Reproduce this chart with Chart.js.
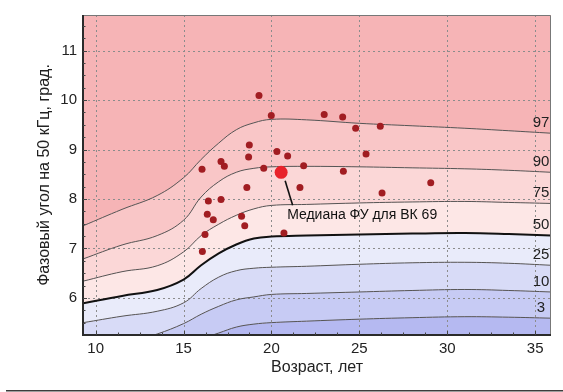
<!DOCTYPE html>
<html>
<head>
<meta charset="utf-8">
<script src="https://cdn.jsdelivr.net/npm/chart.js@4"></script>
<style>
  html, body { margin: 0; padding: 0; background: #fff; }
  canvas { display: block; }
</style>
</head>
<body>
<canvas id="chart" width="563" height="392"></canvas>
<script>
// age grid of the percentile curves, years
const ages = [9.3, 11.5, 13.5, 15, 16, 17, 18, 19, 20, 22, 25, 28, 31, 33.5, 35.9];

// phase angle percentiles at 50 kHz, degrees
const p97 = [7.46, 7.79, 8.07, 8.43, 8.80, 9.13, 9.40, 9.54, 9.61, 9.60, 9.53, 9.48, 9.43, 9.38, 9.33];
const p90 = [6.79, 7.07, 7.26, 7.57, 8.04, 8.35, 8.54, 8.62, 8.65, 8.66, 8.65, 8.63, 8.61, 8.58, 8.54];
const p75 = [6.34, 6.53, 6.65, 6.93, 7.26, 7.49, 7.67, 7.80, 7.87, 7.89, 7.92, 7.94, 7.95, 7.93, 7.91];
const p50 = [5.89, 6.04, 6.16, 6.37, 6.66, 6.90, 7.08, 7.20, 7.24, 7.26, 7.28, 7.30, 7.31, 7.29, 7.26];
const p25 = [5.50, 5.63, 5.73, 5.90, 6.19, 6.42, 6.55, 6.60, 6.62, 6.64, 6.68, 6.71, 6.72, 6.70, 6.66];
const p10 = [4.85, 5.06, 5.27, 5.48, 5.67, 5.83, 5.96, 6.02, 6.07, 6.09, 6.12, 6.15, 6.17, 6.15, 6.12];
const p3  = [4.40, 4.60, 4.85, 5.05, 5.17, 5.29, 5.41, 5.47, 5.50, 5.53, 5.57, 5.60, 5.62, 5.61, 5.59];

const percentileNames = ['97', '90', '75', '50', '25', '10', '3'];
const percentileCurves = [p97, p90, p75, p50, p25, p10, p3];

// band colours: above 97 first, then each band under a curve
const bandColors = ['#f6b4b6', '#f9c6c7', '#fbd7d7', '#fde7e6', '#e9ebfa', '#d8dbf7', '#c7cbf4', '#b5b9f1'];

// individual measurements
const obsAge   = [19.29, 19.99, 23.0, 24.05, 18.74, 18.7, 20.31, 20.92, 17.13, 17.32, 16.05, 19.56, 21.83, 24.09, 18.6,
                  21.62, 16.41, 17.13, 16.35, 16.69, 18.3, 18.48, 16.22, 16.07, 20.71, 24.79, 26.19, 25.38, 29.06, 26.29];
const obsPhase = [10.09, 9.69, 9.71, 9.66, 9.09, 8.85, 8.96, 8.87, 8.76, 8.66, 8.6, 8.62, 8.67, 8.56, 8.23,
                  8.23, 7.96, 7.99, 7.69, 7.58, 7.65, 7.46, 7.28, 6.94, 7.31, 9.43, 9.47, 8.91, 8.33, 8.12];

// group median
const medianAge = [20.55];
const medianPhase = [8.54];
const medianLabel = 'Медиана ФУ для ВК 69';

const FONT = 'Arial, "Liberation Sans", sans-serif';

const toPoints = (xs, ys) => xs.map((x, i) => ({ x: x, y: ys[i] }));

const curveSets = percentileCurves.map((vals, i) => ({
  type: 'line',
  data: toPoints(ages, vals),
  borderColor: percentileNames[i] === '50' ? '#111' : '#555',
  borderWidth: percentileNames[i] === '50' ? 2 : 1,
  pointRadius: 0,
  tension: 0.4,
  backgroundColor: bandColors[i + 1],
  fill: i === percentileCurves.length - 1 ? 'start' : '+1'
}));

const decor = {
  id: 'decor',
  beforeDraw(chart) {
    const { ctx, chartArea: a } = chart;
    ctx.save();
    ctx.fillStyle = '#fff';
    ctx.fillRect(0, 0, chart.width, chart.height);
    ctx.fillStyle = bandColors[0];
    ctx.fillRect(a.left, a.top, a.right - a.left, a.bottom - a.top);
    ctx.restore();
  },
  beforeDatasetsDraw(chart) {
    // dotted grid on top of the bands
    const { ctx, chartArea: a, scales: { x, y } } = chart;
    ctx.save();
    ctx.strokeStyle = '#8c8c8c';
    ctx.lineWidth = 1;
    ctx.setLineDash([2, 3]);
    x.ticks.forEach(t => {
      const px = Math.round(x.getPixelForValue(t.value)) + 0.5;
      ctx.beginPath(); ctx.moveTo(px, a.top); ctx.lineTo(px, a.bottom); ctx.stroke();
    });
    y.ticks.forEach(t => {
      const py = Math.round(y.getPixelForValue(t.value)) + 0.5;
      ctx.beginPath(); ctx.moveTo(a.left, py); ctx.lineTo(a.right, py); ctx.stroke();
    });
    ctx.restore();
  },
  afterDatasetsDraw(chart) {
    const { ctx, chartArea: a, scales: { x, y } } = chart;
    ctx.save();

    // frame
    ctx.strokeStyle = '#777';
    ctx.lineWidth = 1;
    ctx.beginPath();
    ctx.moveTo(a.left, a.top + 0.5); ctx.lineTo(a.right - 0.5, a.top + 0.5); ctx.lineTo(a.right - 0.5, a.bottom);
    ctx.stroke();
    ctx.strokeStyle = '#2b2b2b';
    ctx.lineWidth = 2;
    ctx.beginPath();
    ctx.moveTo(a.left, a.top); ctx.lineTo(a.left, a.bottom); ctx.lineTo(a.right, a.bottom);
    ctx.stroke();

    // inward tick marks
    ctx.lineWidth = 1;
    ctx.strokeStyle = '#444';
    for (let v = 10; v <= x.max; v += 1.25) {
      const px = Math.round(x.getPixelForValue(v)) + 0.5;
      const len = Math.abs(v % 5) < 1e-6 ? 4 : 2.5;
      ctx.beginPath(); ctx.moveTo(px, a.bottom); ctx.lineTo(px, a.bottom - len); ctx.stroke();
    }
    for (let v = 5.5; v <= y.max; v += 0.25) {
      const py = Math.round(y.getPixelForValue(v)) + 0.5;
      const len = Math.abs(v % 1) < 1e-6 ? 4 : 2.5;
      ctx.beginPath(); ctx.moveTo(a.left, py); ctx.lineTo(a.left + len, py); ctx.stroke();
    }

    // percentile names above the right end of each curve
    ctx.fillStyle = '#222';
    ctx.font = '15px ' + FONT;
    ctx.textAlign = 'center';
    ctx.textBaseline = 'alphabetic';
    percentileCurves.forEach((vals, i) => {
      const py = y.getPixelForValue(vals[vals.length - 1]);
      ctx.fillText(percentileNames[i], a.right - 10, py - 6.3);
    });

    // callout for the median point
    const mx = x.getPixelForValue(medianAge[0]);
    const my = y.getPixelForValue(medianPhase[0]);
    ctx.strokeStyle = '#111';
    ctx.lineWidth = 1.6;
    ctx.beginPath(); ctx.moveTo(mx + 4, my + 8.5); ctx.lineTo(mx + 11.5, my + 33); ctx.stroke();
    ctx.fillStyle = '#111';
    ctx.font = '14px ' + FONT;
    ctx.textAlign = 'left';
    ctx.fillText(medianLabel, mx + 6, my + 46.5);
    ctx.restore();
  },
  afterDraw(chart) {
    const { ctx } = chart;
    ctx.save();
    ctx.fillStyle = '#3c3c3c';
    ctx.fillRect(6, 390, chart.width - 6, 1.5);
    ctx.restore();
  }
};

new Chart(document.getElementById('chart'), {
  type: 'line',
  data: {
    datasets: [
      {
        type: 'scatter',
        data: toPoints(medianAge, medianPhase),
        backgroundColor: '#e8232b',
        borderWidth: 0,
        pointRadius: 6.5
      },
      {
        type: 'scatter',
        data: toPoints(obsAge, obsPhase),
        backgroundColor: '#a11d22',
        borderWidth: 0,
        pointRadius: 3.5
      },
      ...curveSets
    ]
  },
  options: {
    responsive: false,
    animation: false,
    events: [],
    layout: { padding: { top: 13, right: 12, bottom: 0, left: 0 } },
    plugins: {
      legend: { display: false },
      tooltip: { enabled: false },
      filler: { drawTime: 'beforeDatasetsDraw' }
    },
    scales: {
      x: {
        type: 'linear',
        min: 9.28,
        max: 35.9,
        grid: { display: false, drawTicks: false },
        border: { display: false },
        ticks: { stepSize: 5, includeBounds: false, padding: 5, color: '#222', font: { family: FONT, size: 15 } },
        title: { display: true, text: 'Возраст, лет', color: '#222', font: { family: FONT, size: 16 }, padding: { top: 0, bottom: 15 } },
        afterFit(scale) { scale.height = 57; }
      },
      y: {
        type: 'linear',
        min: 5.25,
        max: 11.72,
        grid: { display: false, drawTicks: false },
        border: { display: false },
        ticks: { stepSize: 1, includeBounds: false, padding: 6, color: '#222', font: { family: FONT, size: 15 } },
        title: { display: true, text: 'Фазовый угол на 50 кГц, град.', color: '#222', font: { family: FONT, size: 16 }, padding: { top: 35, bottom: 0 } },
        afterFit(scale) { scale.width = 83; }
      }
    }
  },
  plugins: [decor]
});
</script>
</body>
</html>
